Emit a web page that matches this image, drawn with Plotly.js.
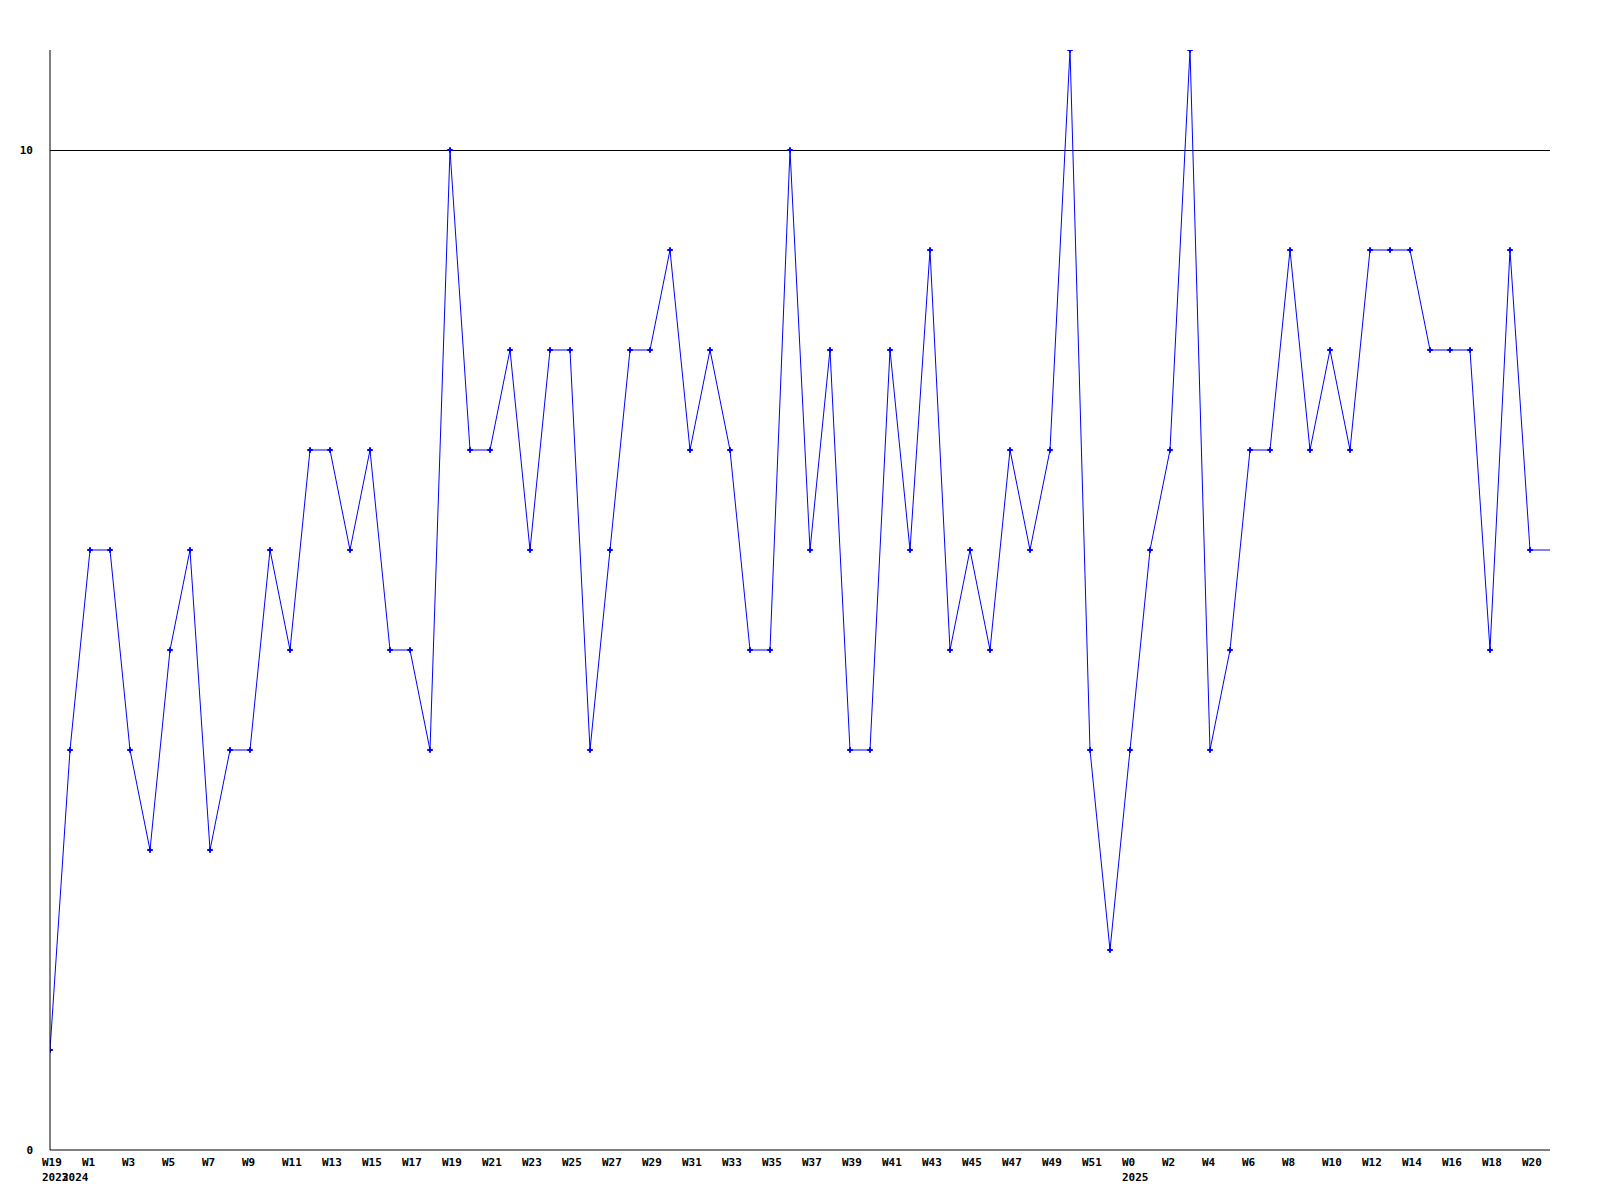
<!DOCTYPE html>
<html>
<head>
<meta charset="utf-8">
<script src="https://cdn.plot.ly/plotly-3.0.1.min.js"></script>
<style>html,body{margin:0;padding:0;background:#fff;}#chart{width:1600px;height:1200px;}</style>
</head>
<body>
<div id="chart"></div>
<script>
// week labels for each data point (2023 W19, 2024 W0..W52, 2025 W0..W20)
const weeks = ["W19",
  "W0","W1","W2","W3","W4","W5","W6","W7","W8","W9","W10","W11","W12","W13","W14","W15","W16","W17","W18","W19",
  "W20","W21","W22","W23","W24","W25","W26","W27","W28","W29","W30","W31","W32","W33","W34","W35","W36","W37","W38","W39",
  "W40","W41","W42","W43","W44","W45","W46","W47","W48","W49","W50","W51","W52",
  "W0","W1","W2","W3","W4","W5","W6","W7","W8","W9","W10","W11","W12","W13","W14","W15","W16","W17","W18","W19","W20"];
const years = ["2023",
  "2024","2024","2024","2024","2024","2024","2024","2024","2024","2024","2024","2024","2024","2024","2024","2024","2024","2024","2024","2024",
  "2024","2024","2024","2024","2024","2024","2024","2024","2024","2024","2024","2024","2024","2024","2024","2024","2024","2024","2024","2024",
  "2024","2024","2024","2024","2024","2024","2024","2024","2024","2024","2024","2024","2024",
  "2025","2025","2025","2025","2025","2025","2025","2025","2025","2025","2025","2025","2025","2025","2025","2025","2025","2025","2025","2025","2025"];
const values = [1,
  4,6,6,4,3,5,6,3,4,4,6,5,7,7,6,7,5,5,4,10,
  7,7,8,6,8,8,4,6,8,8,9,7,8,7,5,5,10,6,8,4,
  4,8,6,9,5,6,5,7,6,7,11,4,2,
  4,6,7,11,4,5,7,7,9,7,8,7,9,9,9,8,8,8,5,9,6];
const yTicks = [0, 10];

const idx = values.map((_, i) => i);
// line continues flat to the right edge of the plot
const lineX = idx.concat([values.length]);
const lineY = values.concat([values[values.length - 1]]);

const monoFont = {family: "DejaVu Sans Mono, monospace", size: 11, color: "#000", weight: "bold"};

const annotations = [];
idx.forEach(i => {
  if (i % 2 === 0) {
    annotations.push({x: i, y: 0, xref: "x", yref: "paper", text: "<b>" + weeks[i] + "</b>", showarrow: false,
      xanchor: "left", yanchor: "middle", xshift: -10, yshift: -12, font: monoFont});
  }
  if (i === 0 || years[i] !== years[i - 1]) {
    annotations.push({x: i, y: 0, xref: "x", yref: "paper", text: "<b>" + years[i] + "</b>", showarrow: false,
      xanchor: "left", yanchor: "middle", xshift: -10, yshift: -27, font: monoFont});
  }
});

const traces = [
  {x: lineX, y: lineY, type: "scatter", mode: "lines", line: {color: "#0000ff", width: 1}, hoverinfo: "skip"},
  {x: idx, y: values, type: "scatter", mode: "markers", marker: {symbol: "cross-thin", size: 4, color: "#0000ff", line: {color: "#0000ff", width: 2}},
   text: weeks, hoverinfo: "text+y"}
];

const layout = {
  width: 1600, height: 1200,
  margin: {l: 50, r: 50, t: 50, b: 50, pad: 0},
  paper_bgcolor: "#fff", plot_bgcolor: "#fff",
  showlegend: false,
  xaxis: {range: [0, values.length], showgrid: false, zeroline: false, showline: false,
          showticklabels: false, ticks: "", fixedrange: true},
  yaxis: {range: [0, 11], tickvals: yTicks, ticktext: yTicks.map(v => "<b>" + v + "</b>"),
          showgrid: true, gridcolor: "#000", gridwidth: 1, zeroline: false,
          showline: false, ticks: "", ticklabelstandoff: 16, tickfont: monoFont, fixedrange: true},
  shapes: [
    {type: "line", xref: "paper", yref: "paper", x0: 0, x1: 0, y0: 0, y1: 1, line: {color: "#000", width: 1}},
    {type: "line", xref: "paper", yref: "paper", x0: 0, x1: 1, y0: 0, y1: 0, line: {color: "#000", width: 1}}
  ],
  annotations: annotations
};

Plotly.newPlot("chart", traces, layout, {displayModeBar: false, staticPlot: true});
</script>
</body>
</html>
